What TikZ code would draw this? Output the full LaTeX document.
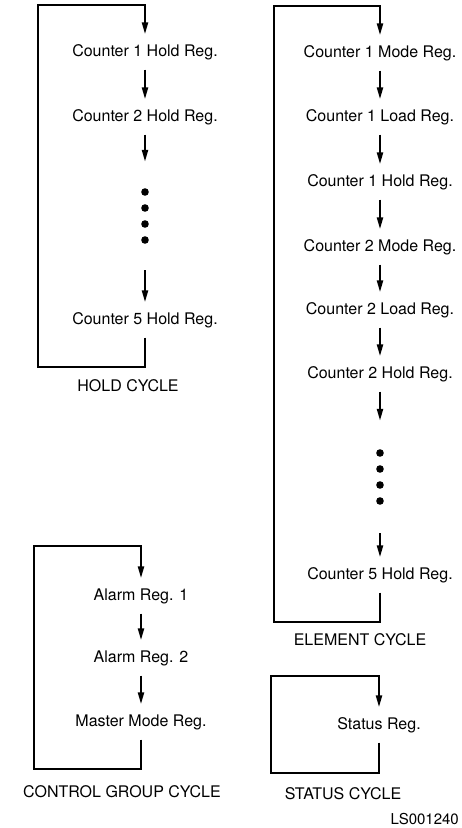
\documentclass[tikz,border=0pt]{standalone}
\usepackage{fontspec}
\setmainfont{TeX Gyre Heros}
\usetikzlibrary{arrows.meta,calc}
\begin{document}
\begin{tikzpicture}[x=1pt,y=-1pt,
  reg/.style={font=\fontsize{16}{19}\selectfont, text height=11.5pt, text depth=3.5pt, inner xsep=0pt, inner ysep=10pt},
  caption/.style={font=\fontsize{16}{19}\selectfont, inner sep=0pt},
  dotsbox/.style={minimum width=8pt, inner sep=0pt},
  flow/.style={line width=2.2pt, -{Triangle[length=12pt,width=6pt]}},
  dot/.style={fill=black}
]
\useasboundingbox (0,0) rectangle (461,828);

% ---------------- HOLD CYCLE ----------------
\node[reg] (h1) at (145,52) {Counter 1 Hold Reg.};
\node[reg] (h2) at (145,117) {Counter 2 Hold Reg.};
\node[dotsbox, minimum height=108pt] (hd) at (145,216) {};
\node[reg] (h5) at (145,320) {Counter 5 Hold Reg.};
\foreach \dy in {-24,-8,8,24} \fill[dot] ($(hd)+(0,\dy)$) circle (3.8pt);
\coordinate (hbl) at (38,367);
\coordinate (htl) at (38,5);
\draw[flow] (h1) -- (h2);
\draw[flow] (h2) -- (hd);
\draw[flow] (hd) -- (h5);
\draw[flow] (h5.south) |- (hbl) -- (htl) -| (h1.north);
\node[caption] (hcap) at (128,386) {HOLD CYCLE};

% ---------------- ELEMENT CYCLE ----------------
\node[reg] (e1) at (380,53) {Counter 1 Mode Reg.};
\node[reg] (e2) at (380,117) {Counter 1 Load Reg.};
\node[reg] (e3) at (380,182) {Counter 1 Hold Reg.};
\node[reg] (e4) at (380,247) {Counter 2 Mode Reg.};
\node[reg] (e5) at (380,310) {Counter 2 Load Reg.};
\node[reg] (e6) at (380,374) {Counter 2 Hold Reg.};
\node[dotsbox, minimum height=112pt] (ed) at (380,477) {};
\node[reg] (e9) at (380,575) {Counter 5 Hold Reg.};
\foreach \dy in {-24,-8,8,24} \fill[dot] ($(ed)+(0,\dy)$) circle (3.8pt);
\coordinate (ebl) at (274,622);
\coordinate (etl) at (274,6);
\draw[flow] (e1) -- (e2);
\draw[flow] (e2) -- (e3);
\draw[flow] (e3) -- (e4);
\draw[flow] (e4) -- (e5);
\draw[flow] (e5) -- (e6);
\draw[flow] (e6) -- (ed);
\draw[flow] (ed) -- (e9);
\draw[flow] (e9.south) |- (ebl) -- (etl) -| (e1.north);
\node[caption] (ecap) at (360,640) {ELEMENT CYCLE};

% ---------------- CONTROL GROUP CYCLE ----------------
\node[reg] (c1) at (141,596) {Alarm Reg. 1};
\node[reg] (c2) at (141,658) {Alarm Reg. 2};
\node[reg] (c3) at (141,722) {Master Mode Reg.};
\coordinate (cbl) at (34,769);
\coordinate (ctl) at (34,546);
\draw[flow] (c1) -- (c2);
\draw[flow] (c2) -- (c3);
\draw[flow] (c3.south) |- (cbl) -- (ctl) -| (c1.north);
\node[caption] (ccap) at (122,792) {CONTROL GROUP CYCLE};

% ---------------- STATUS CYCLE ----------------
\node[reg] (s1) at (379,725) {Status Reg.};
\coordinate (sbl) at (271,773);
\coordinate (stl) at (271,676);
\draw[flow] (s1.south) |- (sbl) -- (stl) -| (s1.north);
\node[caption] (scap) at (343,794) {STATUS CYCLE};

\node[caption, anchor=east, font=\fontsize{15}{18}\selectfont] (ls) at (459,819) {LS001240};
\end{tikzpicture}
\end{document}
